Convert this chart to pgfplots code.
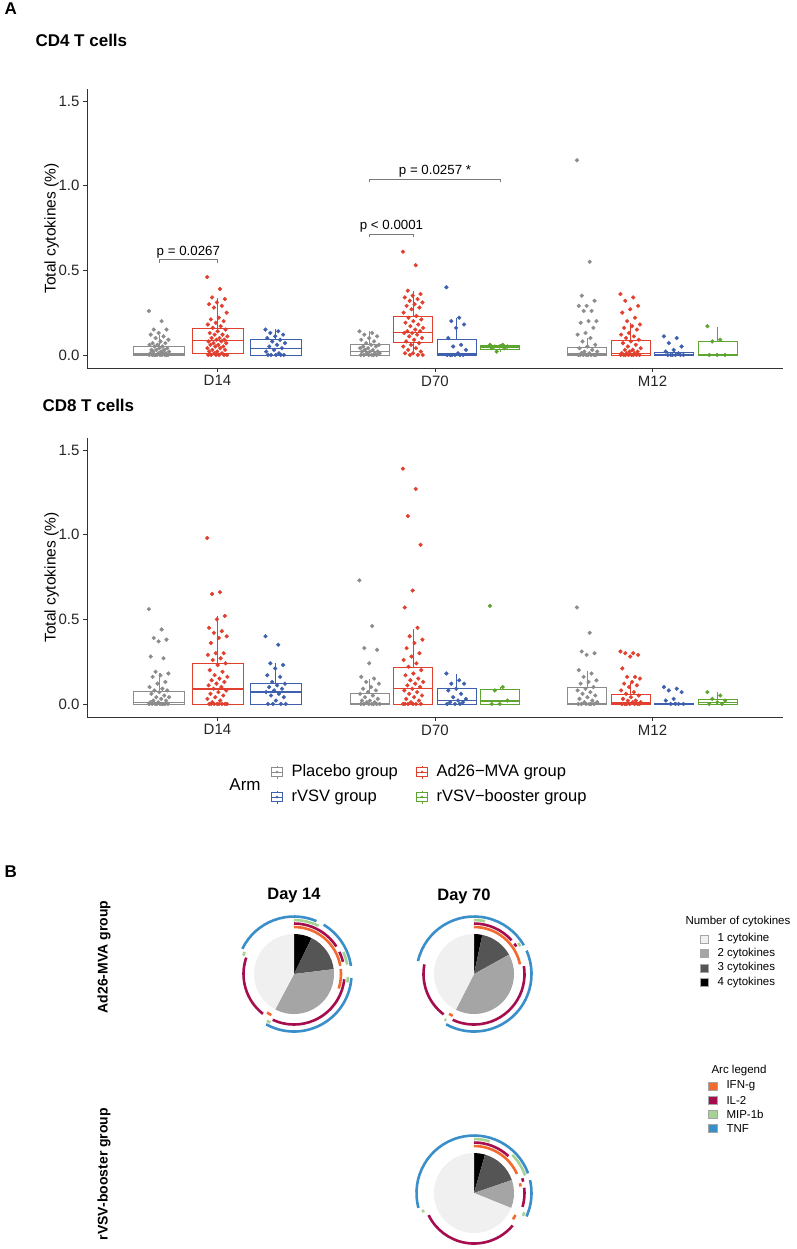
\documentclass[border=0pt]{standalone}
\usepackage{fontspec}
\setmainfont{Liberation Sans}
\setsansfont{Liberation Sans}
\usepackage{pgfplots}
\pgfplotsset{compat=1.18}
\usepgfplotslibrary{statistics}

\definecolor{cGray}{HTML}{8C8C8C}
\definecolor{cRed}{HTML}{E2402F}
\definecolor{cBlue}{HTML}{3F60AE}
\definecolor{cGreen}{HTML}{5EA530}
\definecolor{cBracket}{HTML}{7A7A7A}
\definecolor{cOne}{HTML}{F0F0F0}
\definecolor{cTwo}{HTML}{A5A5A5}
\definecolor{cThree}{HTML}{555555}
\definecolor{cIFN}{HTML}{F26A2E}
\definecolor{cIL}{HTML}{A50D4F}
\definecolor{cMIP}{HTML}{A5D394}
\definecolor{cTNF}{HTML}{3A8FCA}

\pgfplotsset{
  boxax/.style={
    scale only axis, width=696pt, height=279pt,
    xmin=0.4, xmax=3.6, ymin=-0.077, ymax=1.571,
    axis x line*=bottom, axis y line*=left,
    axis line style={-, line width=0.8pt, black!80},
    xtick={1,2,3}, xticklabels={D14,D70,M12},
    ytick={0,0.5,1,1.5}, yticklabels={0.0,0.5,1.0,1.5},
    tick align=outside, major tick length=4pt,
    tick style={line width=0.8pt, black!80},
    ticklabel style={font=\fontsize{15}{17}\selectfont, text=black!85},
    ylabel={Total cytokines (\%)},
    ylabel style={font=\fontsize{15.5}{18}\selectfont},
    ylabel shift=-7pt,
    clip=false,
    boxplot/draw direction=y,
    boxplot/every median/.style={line width=1.4pt},
  }
}

% box: colour, position, width, lw, q1, median, q3, uw
\newcommand{\bx}[8]{\addplot[#1, line width=0.8pt, boxplot prepared={draw direction=y, draw position=#2, box extend=#3, lower whisker=#4, lower quartile=#5, median=#6, upper quartile=#7, upper whisker=#8, whisker extend=0}] coordinates {};}
% jittered points: colour, position, values
\newcommand{\pts}[3]{\addplot[only marks, mark=*, mark size=1.9pt, color=#1] table[header=false, row sep=\\, x expr={#2+0.095*(mod(\coordindex*0.618034,1)-0.5)}, y index=0] {#3};}

% pie pieces, angles clockwise from 12 o'clock
\newcommand{\pieslices}[3]{\foreach \sa/\sb/\sc in {#3}{\edef\temp{\noexpand\fill[\sc] (axis cs:#1,#2) -- ++({90-\sa}:40pt) arc[start angle=90-\sa, end angle=90-\sb, radius=40pt] -- cycle;}\temp}}
% arcs: cx, cy, radius, colour, list
\newcommand{\piearcs}[5]{\foreach \sa/\sb in {#5}{\edef\temp{\noexpand\draw[#4, line width=2.6pt] (axis cs:#1,#2) ++({90-\sa}:#3pt) arc[start angle=90-\sa, end angle=90-\sb, radius=#3pt];}\temp}}

\newcommand{\armkey}[3]{%
  \draw[#1, line width=0.7pt] (#2pt-5.5pt,-#3pt-4.5pt) rectangle (#2pt+5.5pt,-#3pt+4.5pt);
  \draw[#1, line width=0.7pt] (#2pt-5.5pt,-#3pt) -- (#2pt+5.5pt,-#3pt);
  \draw[#1, line width=0.7pt] (#2pt,-#3pt-4.5pt) -- (#2pt,-#3pt-6.5pt) (#2pt,-#3pt+4.5pt) -- (#2pt,-#3pt+6.5pt);
  \fill[#1] (#2pt,-#3pt) circle (1.4pt);}

\begin{document}
\begin{tikzpicture}
\fill[white] (0pt,0pt) rectangle (796pt,-1249pt);
\path[use as bounding box] (0pt,0pt) rectangle (796pt,-1249pt);

\node[anchor=west, font=\bfseries\fontsize{17}{20}\selectfont] at (1pt,-9pt) {A};
\node[anchor=west, font=\bfseries\fontsize{17}{20}\selectfont] at (32pt,-40pt) {CD4 T cells};
\node[anchor=west, font=\bfseries\fontsize{17}{20}\selectfont] at (39pt,-405pt) {CD8 T cells};

% ---------------- CD4 ----------------
\begin{axis}[boxax, at={(87pt,-368pt)}, anchor=south west]
\bx{cGray}{0.732}{0.234}{0}{0}{0.006}{0.049}{0.12}
\bx{cRed}{1}{0.234}{0}{0.01}{0.085}{0.157}{0.338}
\bx{cBlue}{1.268}{0.234}{0}{0}{0.037}{0.093}{0.155}
\bx{cGray}{1.7}{0.178}{0}{0}{0.022}{0.063}{0.14}
\bx{cRed}{1.9}{0.178}{0}{0.075}{0.134}{0.23}{0.38}
\bx{cBlue}{2.1}{0.178}{0}{0}{0.006}{0.093}{0.22}
\bx{cGreen}{2.3}{0.178}{0.02}{0.034}{0.047}{0.059}{0.065}
\bx{cGray}{2.7}{0.178}{0}{0}{0.005}{0.047}{0.10}
\bx{cRed}{2.9}{0.178}{0}{0}{0.01}{0.087}{0.19}
\bx{cBlue}{3.1}{0.178}{0}{0}{0.004}{0.014}{0.03}
\bx{cGreen}{3.3}{0.178}{0}{0}{0}{0.081}{0.167}

\pts{cGray}{0.732}{0.26\\0.20\\0.15\\0.15\\0.13\\0.12\\0.11\\0.10\\0.09\\0.08\\0.07\\0.07\\0.06\\0.06\\0.05\\0.05\\0.04\\0.04\\0.03\\0.03\\0.03\\0.02\\0.02\\0.02\\0.01\\0.01\\0.01\\0.01\\0\\0\\0\\0\\0\\0\\0\\0\\0\\0\\}
\pts{cRed}{1}{0.46\\0.39\\0.34\\0.33\\0.31\\0.30\\0.29\\0.28\\0.25\\0.22\\0.21\\0.20\\0.19\\0.18\\0.17\\0.16\\0.15\\0.14\\0.13\\0.12\\0.12\\0.11\\0.10\\0.10\\0.09\\0.09\\0.08\\0.08\\0.07\\0.07\\0.06\\0.06\\0.05\\0.05\\0.04\\0.04\\0.03\\0.03\\0.02\\0.02\\0.01\\0.01\\0\\0\\0\\0\\0\\0\\}
\pts{cBlue}{1.268}{0.15\\0.14\\0.13\\0.12\\0.11\\0.10\\0.09\\0.08\\0.07\\0.06\\0.05\\0.04\\0.03\\0.02\\0.01\\0\\0\\0\\0\\0\\}
\pts{cGray}{1.7}{0.14\\0.13\\0.12\\0.11\\0.10\\0.09\\0.08\\0.07\\0.06\\0.06\\0.05\\0.05\\0.04\\0.04\\0.03\\0.03\\0.02\\0.02\\0.02\\0.01\\0.01\\0.01\\0\\0\\0\\0\\0\\0\\}
\pts{cRed}{1.9}{0.61\\0.53\\0.38\\0.36\\0.35\\0.34\\0.33\\0.32\\0.31\\0.30\\0.29\\0.28\\0.27\\0.25\\0.23\\0.22\\0.21\\0.20\\0.19\\0.18\\0.17\\0.16\\0.15\\0.14\\0.14\\0.13\\0.13\\0.12\\0.11\\0.10\\0.09\\0.08\\0.07\\0.06\\0.05\\0.04\\0.03\\0.02\\0.01\\0.01\\0\\0\\0\\}
\pts{cBlue}{2.1}{0.40\\0.22\\0.20\\0.18\\0.16\\0.10\\0.06\\0.05\\0.03\\0.01\\0\\0\\0\\0\\0\\0\\}
\pts{cGreen}{2.3}{0.06\\0.06\\0.05\\0.05\\0.05\\0.04\\0.04\\0.02\\}
\pts{cGray}{2.7}{1.15\\0.55\\0.35\\0.32\\0.29\\0.29\\0.26\\0.26\\0.20\\0.20\\0.19\\0.16\\0.13\\0.12\\0.10\\0.08\\0.06\\0.05\\0.04\\0.03\\0.02\\0.02\\0.01\\0.01\\0\\0\\0\\0\\0\\0\\0\\0\\}
\pts{cRed}{2.9}{0.36\\0.34\\0.32\\0.29\\0.27\\0.25\\0.22\\0.20\\0.18\\0.17\\0.16\\0.15\\0.13\\0.12\\0.11\\0.10\\0.09\\0.08\\0.07\\0.06\\0.05\\0.04\\0.03\\0.03\\0.02\\0.02\\0.01\\0.01\\0.01\\0\\0\\0\\0\\0\\0\\0\\0\\}
\pts{cBlue}{3.1}{0.11\\0.10\\0.07\\0.05\\0.03\\0.02\\0.01\\0\\0\\0\\0\\0\\0\\}
\pts{cGreen}{3.3}{0.17\\0.09\\0.08\\0\\0\\0\\}

\addplot[cBracket, line width=0.6pt] coordinates {(0.732,0.545) (0.732,0.563) (1,0.563) (1,0.545)};
\addplot[cBracket, line width=0.6pt] coordinates {(1.7,0.697) (1.7,0.715) (1.9,0.715) (1.9,0.697)};
\addplot[cBracket, line width=0.6pt] coordinates {(1.7,1.022) (1.7,1.04) (2.3,1.04) (2.3,1.022)};
\node[anchor=south, font=\fontsize{13.3}{15}\selectfont, inner sep=1pt] at (axis cs:0.866,0.566) {p = 0.0267};
\node[anchor=south, font=\fontsize{13.3}{15}\selectfont, inner sep=1pt] at (axis cs:1.8,0.718) {p < 0.0001};
\node[anchor=south, font=\fontsize{13.3}{15}\selectfont, inner sep=1pt] at (axis cs:2.0,1.043) {p = 0.0257 *};
\end{axis}

% ---------------- CD8 ----------------
\begin{axis}[boxax, at={(87pt,-717pt)}, anchor=south west]
\bx{cGray}{0.732}{0.234}{0}{0}{0.01}{0.077}{0.185}
\bx{cRed}{1}{0.234}{0}{0}{0.089}{0.242}{0.518}
\bx{cBlue}{1.268}{0.234}{0}{0}{0.071}{0.124}{0.242}
\bx{cGray}{1.7}{0.178}{0}{0}{0.003}{0.061}{0.15}
\bx{cRed}{1.9}{0.178}{0}{0}{0.091}{0.217}{0.445}
\bx{cBlue}{2.1}{0.178}{0}{0}{0.02}{0.091}{0.177}
\bx{cGreen}{2.3}{0.178}{0}{0}{0.018}{0.085}{0.10}
\bx{cGray}{2.7}{0.178}{0}{0}{0.003}{0.099}{0.197}
\bx{cRed}{2.9}{0.178}{0}{0}{0.005}{0.055}{0.126}
\bx{cBlue}{3.1}{0.178}{0}{0}{0.003}{0.005}{0.01}
\bx{cGreen}{3.3}{0.178}{0}{0}{0.008}{0.028}{0.071}

\pts{cGray}{0.732}{0.56\\0.44\\0.39\\0.38\\0.37\\0.28\\0.27\\0.19\\0.18\\0.17\\0.16\\0.13\\0.12\\0.10\\0.09\\0.08\\0.08\\0.07\\0.06\\0.05\\0.04\\0.04\\0.03\\0.02\\0.02\\0.01\\0.01\\0\\0\\0\\0\\0\\0\\0\\0\\0\\}
\pts{cRed}{1}{0.98\\0.66\\0.65\\0.52\\0.50\\0.45\\0.43\\0.42\\0.40\\0.39\\0.36\\0.30\\0.30\\0.29\\0.27\\0.26\\0.24\\0.23\\0.20\\0.19\\0.17\\0.16\\0.15\\0.14\\0.13\\0.12\\0.11\\0.10\\0.09\\0.08\\0.07\\0.06\\0.05\\0.04\\0.03\\0.02\\0.01\\0\\0\\0\\0\\0\\0\\0\\0\\}
\pts{cBlue}{1.268}{0.40\\0.35\\0.24\\0.23\\0.21\\0.17\\0.16\\0.13\\0.12\\0.11\\0.10\\0.09\\0.08\\0.07\\0.06\\0.05\\0.04\\0.02\\0\\0\\0\\0\\}
\pts{cGray}{1.7}{0.73\\0.46\\0.33\\0.32\\0.24\\0.16\\0.15\\0.13\\0.12\\0.10\\0.09\\0.08\\0.07\\0.06\\0.05\\0.04\\0.03\\0.02\\0.02\\0.01\\0.01\\0\\0\\0\\0\\0\\0\\0\\}
\pts{cRed}{1.9}{1.39\\1.27\\1.11\\0.94\\0.67\\0.57\\0.45\\0.40\\0.38\\0.36\\0.33\\0.30\\0.28\\0.26\\0.24\\0.22\\0.20\\0.18\\0.17\\0.15\\0.14\\0.13\\0.12\\0.11\\0.10\\0.09\\0.08\\0.07\\0.06\\0.05\\0.04\\0.03\\0.02\\0.01\\0\\0\\0\\0\\0\\0\\}
\pts{cBlue}{2.1}{0.18\\0.14\\0.12\\0.12\\0.09\\0.08\\0.06\\0.04\\0.03\\0.02\\0.01\\0.01\\0\\0\\0\\}
\pts{cGreen}{2.3}{0.58\\0.10\\0.08\\0.02\\0\\0\\}
\pts{cGray}{2.7}{0.57\\0.42\\0.31\\0.30\\0.29\\0.20\\0.18\\0.16\\0.14\\0.13\\0.12\\0.10\\0.09\\0.08\\0.07\\0.06\\0.05\\0.04\\0.03\\0.02\\0.01\\0.01\\0\\0\\0\\0\\0\\0\\}
\pts{cRed}{2.9}{0.31\\0.30\\0.30\\0.29\\0.28\\0.21\\0.16\\0.16\\0.15\\0.13\\0.12\\0.11\\0.10\\0.08\\0.07\\0.06\\0.05\\0.04\\0.03\\0.02\\0.02\\0.01\\0.01\\0\\0\\0\\0\\0\\0\\0\\}
\pts{cBlue}{3.1}{0.10\\0.09\\0.08\\0.07\\0.03\\0.02\\0\\0\\0\\0\\}
\pts{cGreen}{3.3}{0.07\\0.05\\0.03\\0.02\\0.01\\0\\0\\}
\end{axis}

% ---------------- Arm legend ----------------
\node[font=\fontsize{17}{20}\selectfont] at (245pt,-785pt) {Arm};
\armkey{cGray}{277}{772}
\armkey{cBlue}{277}{797}
\armkey{cRed}{422}{772}
\armkey{cGreen}{422}{797}
\node[anchor=west, font=\fontsize{16.5}{19}\selectfont] at (288pt,-772pt) {Placebo group};
\node[anchor=west, font=\fontsize{16.5}{19}\selectfont] at (288pt,-797pt) {rVSV group};
\node[anchor=west, font=\fontsize{16.5}{19}\selectfont] at (433pt,-772pt) {Ad26−MVA group};
\node[anchor=west, font=\fontsize{16.5}{19}\selectfont] at (433pt,-797pt) {rVSV−booster group};

% ---------------- Panel B ----------------
\node[anchor=west, font=\bfseries\fontsize{17}{20}\selectfont] at (1pt,-872pt) {B};
\node[font=\bfseries\fontsize{16.5}{19}\selectfont] at (294pt,-896pt) {Day 14};
\node[font=\bfseries\fontsize{16.5}{19}\selectfont] at (464pt,-896pt) {Day 70};
\node[rotate=90, font=\bfseries\fontsize{14}{17}\selectfont] at (104pt,-957pt) {Ad26-MVA group};
\node[rotate=90, font=\bfseries\fontsize{14}{17}\selectfont] at (104pt,-1174pt) {rVSV-booster group};

\begin{axis}[at={(0pt,-1249pt)}, anchor=south west, x=1pt, y=1pt, disabledatascaling,
  xmin=0, xmax=796, ymin=-1249, ymax=-850, hide axis, clip=false]
% Day 14, Ad26-MVA
\pieslices{294}{-974}{0/26/black, 26/83/cThree, 83/208/cTwo, 208/360/cOne}
\piearcs{294}{-974}{47}{cIFN}{0/80, 84/108, 209/215}
\piearcs{294}{-974}{50.5}{cIL}{0/57, 64/76, 96/205, 218/289}
\piearcs{294}{-974}{54}{cMIP}{0/27, 66/80, 93/99, 206/210, 290/294}
\piearcs{294}{-974}{57.5}{cTNF}{296/383, 31/82, 94/209}
% Day 70, Ad26-MVA
\pieslices{474}{-974}{0/12/black, 12/61/cThree, 61/207/cTwo, 207/360/cOne}
\piearcs{474}{-974}{47}{cIFN}{0/78, 207/212}
\piearcs{474}{-974}{50.5}{cIL}{0/48, 53/57, 81/205, 217/281}
\piearcs{474}{-974}{54}{cMIP}{0/12, 55/59, 211/213}
\piearcs{474}{-974}{57.5}{cTNF}{283/420, 66/209}
% Day 70, rVSV-booster
\pieslices{474}{-1193}{0/16/black, 16/71/cThree, 71/112/cTwo, 112/360/cOne}
\piearcs{474}{-1193}{47}{cIFN}{0/66, 78/82, 118/124}
\piearcs{474}{-1193}{50.5}{cIL}{0/43, 73/77, 84/106, 130/244}
\piearcs{474}{-1193}{54}{cMIP}{0/17, 45/71, 111/115, 249/252}
\piearcs{474}{-1193}{57.5}{cTNF}{255/430, 77/114}
\end{axis}

% pie legends
\node[anchor=west, font=\fontsize{11.5}{13}\selectfont] at (682pt,-922pt) {Number of cytokines};
\foreach \yy/\cc/\lab in {939/cOne/1 cytokine, 953.5/cTwo/2 cytokines, 968/cThree/3 cytokines, 982.5/black/4 cytokines}{
  \filldraw[fill=\cc, draw=gray!70, line width=0.4pt] (700pt,-\yy pt-4pt) rectangle (708pt,-\yy pt+4pt);
  \node[anchor=west, font=\fontsize{11.5}{13}\selectfont] at (714pt,-\yy pt) {\lab};
}
\node[anchor=west, font=\fontsize{11.5}{13}\selectfont] at (708pt,-1071pt) {Arc legend};
\foreach \yy/\cc/\lab in {1086/cIFN/IFN-g, 1100.5/cIL/IL-2, 1114.5/cMIP/MIP-1b, 1128.5/cTNF/TNF}{
  \filldraw[fill=\cc, draw=gray!70, line width=0.4pt] (708pt,-\yy pt-4pt) rectangle (717pt,-\yy pt+4pt);
  \node[anchor=west, font=\fontsize{11.5}{13}\selectfont] at (723pt,-\yy pt) {\lab};
}
\end{tikzpicture}
\end{document}
